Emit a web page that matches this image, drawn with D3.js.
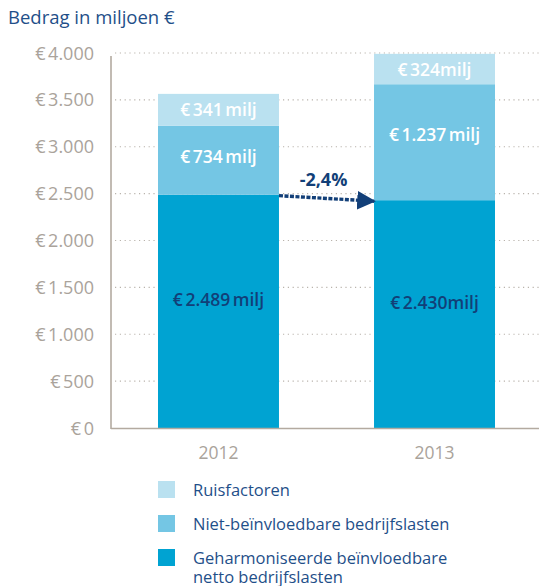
<!DOCTYPE html>
<html>
<head>
<meta charset="utf-8">
<script src="https://cdn.jsdelivr.net/npm/d3@7"></script>
<style>
  body { margin: 0; background: #fff; }
  svg { display: block; font-family: "Open Sans", sans-serif; }
</style>
</head>
<body>
<svg width="539" height="586"></svg>
<script>
var years = ["2012", "2013"];
var harmonised = [2489, 2430];
var nonControllable = [734, 1237];
var noise = [341, 324];
var segLabels = [
  ["€ 2.489 milj", "€ 2.430milj"],
  ["€ 734 milj", "€ 1.237 milj"],
  ["€ 341 milj", "€ 324milj"]
];
var yTicks = [0, 500, 1000, 1500, 2000, 2500, 3000, 3500, 4000];
var yTickLabels = ["€ 0", "€ 500", "€ 1.000", "€ 1.500", "€ 2.000", "€ 2.500", "€ 3.000", "€ 3.500", "€ 4.000"];
var changeLabel = "-2,4%";

var svg = d3.select("svg"),
    width = 539,
    left = 111,
    bottom = 428,
    yTop = 53;

var colors = ["#00a3d2", "#74c6e4", "#bae1f0"];
var navy = "#123f78";
var grey = "#aaa39b";

var x = d3.scaleBand().domain(years).range([left, 542]).paddingInner(0.44).paddingOuter(0.2176);
var y = d3.scaleLinear().domain([0, 4000]).range([bottom, yTop]);

// stack data
var rows = years.map(function(d, i) {
  return { year: d, a: harmonised[i], b: nonControllable[i], c: noise[i] };
});
var stack = d3.stack().keys(["a", "b", "c"])(rows);

// title
svg.append("text").attr("x", 8).attr("y", 24)
  .attr("fill", "#1f4f89").attr("font-size", 18.5)
  .text("Bedrag in miljoen €");

// grid
svg.append("g").selectAll("line").data(yTicks.slice(1)).join("line")
  .attr("x1", left + 4).attr("x2", width)
  .attr("y1", function(d) { return y(d); }).attr("y2", function(d) { return y(d); })
  .attr("stroke", "#b9b3ac").attr("stroke-width", 1.2)
  .attr("stroke-dasharray", "1.2,3.6");

// tick labels
svg.append("g").selectAll("text").data(yTicks).join("text")
  .attr("x", 94).attr("y", function(d) { return y(d) + 6.5; })
  .attr("text-anchor", "end").attr("fill", grey).attr("font-size", 18)
  .attr("word-spacing", -2)
  .text(function(d, i) { return yTickLabels[i]; });

// bars
var layers = svg.append("g").selectAll("g").data(stack).join("g")
  .attr("fill", function(d, i) { return colors[i]; });
layers.selectAll("rect").data(function(d) { return d; }).join("rect")
  .attr("x", function(d) { return x(d.data.year); })
  .attr("width", x.bandwidth())
  .attr("y", function(d) { return y(d[1]); })
  .attr("height", function(d) { return y(d[0]) - y(d[1]); });

// axes lines
svg.append("line").attr("x1", left).attr("x2", left).attr("y1", yTop + 3).attr("y2", bottom + 1)
  .attr("stroke", "#b3aaa0").attr("stroke-width", 1.6);
svg.append("line").attr("x1", left).attr("x2", width).attr("y1", bottom + 0.5).attr("y2", bottom + 0.5)
  .attr("stroke", "#b3aaa0").attr("stroke-width", 1.6);

// year labels
svg.append("g").selectAll("text").data(years).join("text")
  .attr("x", function(d) { return x(d) + x.bandwidth() / 2; })
  .attr("y", 459).attr("text-anchor", "middle")
  .attr("fill", grey).attr("font-size", 17.5)
  .text(function(d) { return d; });

// segment labels
stack.forEach(function(layer, li) {
  svg.append("g").selectAll("text").data(layer).join("text")
    .attr("x", function(d) { return x(d.data.year) + x.bandwidth() / 2; })
    .attr("y", function(d, i) {
      if (li === 0) return y(d[1] * 0.5) - 5;
      if (li === 1) return y(d[1]) + (i === 1 ? 57 : 37);
      return y(d[1]) + 22;
    })
    .attr("text-anchor", "middle")
    .attr("fill", li === 0 ? navy : "#fff")
    .attr("font-size", 17.5).attr("font-weight", 600)
    .attr("word-spacing", -2)
    .text(function(d, i) { return segLabels[li][i]; });
});

// change arrow
var defs = svg.append("defs");
defs.append("marker").attr("id", "ah").attr("viewBox", "0 0 10 10")
  .attr("refX", 9).attr("refY", 5).attr("markerWidth", 5.5).attr("markerHeight", 5.5)
  .attr("markerUnits", "strokeWidth").attr("orient", "auto")
  .append("path").attr("d", "M0,0L10,5L0,10Z").attr("fill", navy);
var x0 = x(years[0]) + x.bandwidth(), x1 = x(years[1]);
svg.append("line")
  .attr("x1", x0).attr("y1", y(harmonised[0]) + 1)
  .attr("x2", x1).attr("y2", y(harmonised[1]) + 1)
  .attr("stroke", navy).attr("stroke-width", 3.4)
  .attr("stroke-dasharray", "4,1.5")
  .attr("marker-end", "url(#ah)");
svg.append("text").attr("x", (x0 + x1) / 2 - 3).attr("y", 186)
  .attr("text-anchor", "middle").attr("fill", navy)
  .attr("font-size", 18).attr("font-weight", 700)
  .text(changeLabel);

// legend
var legendItems = [
  { c: colors[2], t: ["Ruisfactoren"] },
  { c: colors[1], t: ["Niet-beïnvloedbare bedrijfslasten"] },
  { c: colors[0], t: ["Geharmoniseerde beïnvloedbare", "netto bedrijfslasten"] }
];
var lg = svg.append("g").selectAll("g").data(legendItems).join("g")
  .attr("transform", function(d, i) { return "translate(158," + (481 + i * 34) + ")"; });
lg.append("rect").attr("width", 17).attr("height", 17).attr("fill", function(d) { return d.c; });
lg.each(function(d) {
  var t = d3.select(this).append("text").attr("fill", "#1f4f89").attr("font-size", 16.5);
  d.t.forEach(function(s, j) {
    t.append("tspan").attr("x", 35).attr("y", 14.5 + j * 19.5).text(s);
  });
});
</script>
</body>
</html>
